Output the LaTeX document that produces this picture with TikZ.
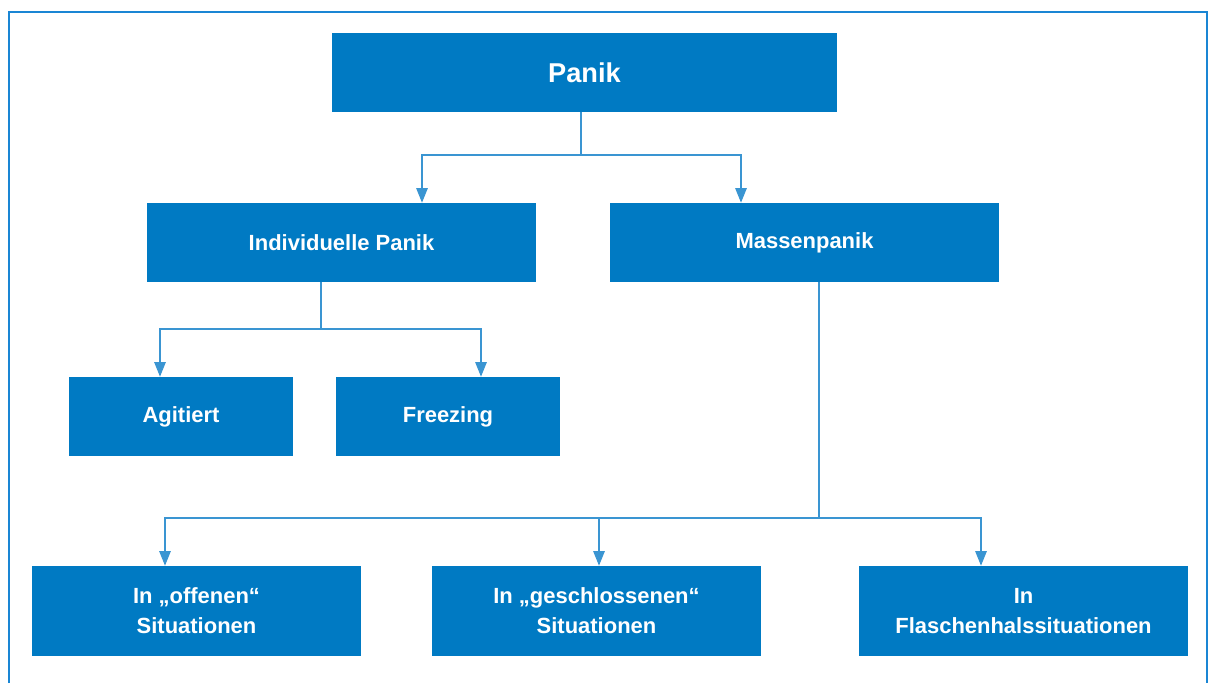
\documentclass[tikz,border=0pt]{standalone}
\usepackage{fontspec}
\setmainfont{Liberation Sans}
\usetikzlibrary{arrows.meta,calc}
\definecolor{BoxBlue}{HTML}{007AC3}
\definecolor{LinkBlue}{HTML}{3A95D2}
\definecolor{FrameBlue}{HTML}{1A86D4}

\begin{document}
\begin{tikzpicture}[
  x=0.02cm,y=-0.02cm,
  box/.style={fill=BoxBlue,text=white,inner sep=0pt,align=center,
    font=\bfseries\fontsize{12.5}{17}\selectfont,minimum height=1.58cm},
  wide/.style={box,minimum width=7.78cm},
  small/.style={box,minimum width=4.48cm},
  leaf/.style={box,minimum width=6.58cm,minimum height=1.8cm},
  link/.style={-{Triangle[width=0.23cm,length=0.29cm]},LinkBlue,line width=0.6pt},
  stem/.style={LinkBlue,line width=0.6pt},
  frame/.style={FrameBlue,line width=0.8pt},
]
\useasboundingbox (0,0) rectangle (1210,683);
\draw[frame] (9,683) |- (1207,12) -- (1207,683);

% top level
\node[box,minimum width=10.1cm,font=\bfseries\fontsize{15.5}{18}\selectfont]
  (panik) at (584.5,72.5) {Panik};

% second level
\node[wide] (indiv) at (341.5,242.5) {Individuelle Panik};
\node[wide] (masse) at (804.5,242.5) {Massenpanik};

% kinds of individual panic
\node[small] (agit) at (181,416.5) {Agitiert};
\node[small] (freez) at (448,416.5) {Freezing};

% kinds of mass panic
\node[leaf] (offen) at (196.5,611) {In „offenen“\\Situationen};
\node[leaf] (geschl) at (596.5,611) {In „geschlossenen“\\Situationen};
\node[leaf] (flasche) at (1023.5,611) {In\\Flaschenhalssituationen};

% connectors
\coordinate (jp) at (581,155);
\draw[stem] (jp |- panik.south) -- (jp);
\draw[link] (jp) -| ($(indiv.north)+(80.5,0)$);
\draw[link] (jp) -| ($(masse.north)+(-63.5,0)$);

\coordinate (ji) at (321,329);
\draw[stem] (ji |- indiv.south) -- (ji);
\draw[link] (ji) -| ($(agit.north)+(-21,0)$);
\draw[link] (ji) -| ($(freez.north)+(33,0)$);

\coordinate (jm) at (819,518);
\draw[stem] (jm |- masse.south) -- (jm);
\draw[link] (jm) -| ($(offen.north)+(-31.5,0)$);
\draw[link] (jm) -| ($(geschl.north)+(2.5,0)$);
\draw[link] (jm) -| ($(flasche.north)+(-42.5,0)$);
\end{tikzpicture}
\end{document}
